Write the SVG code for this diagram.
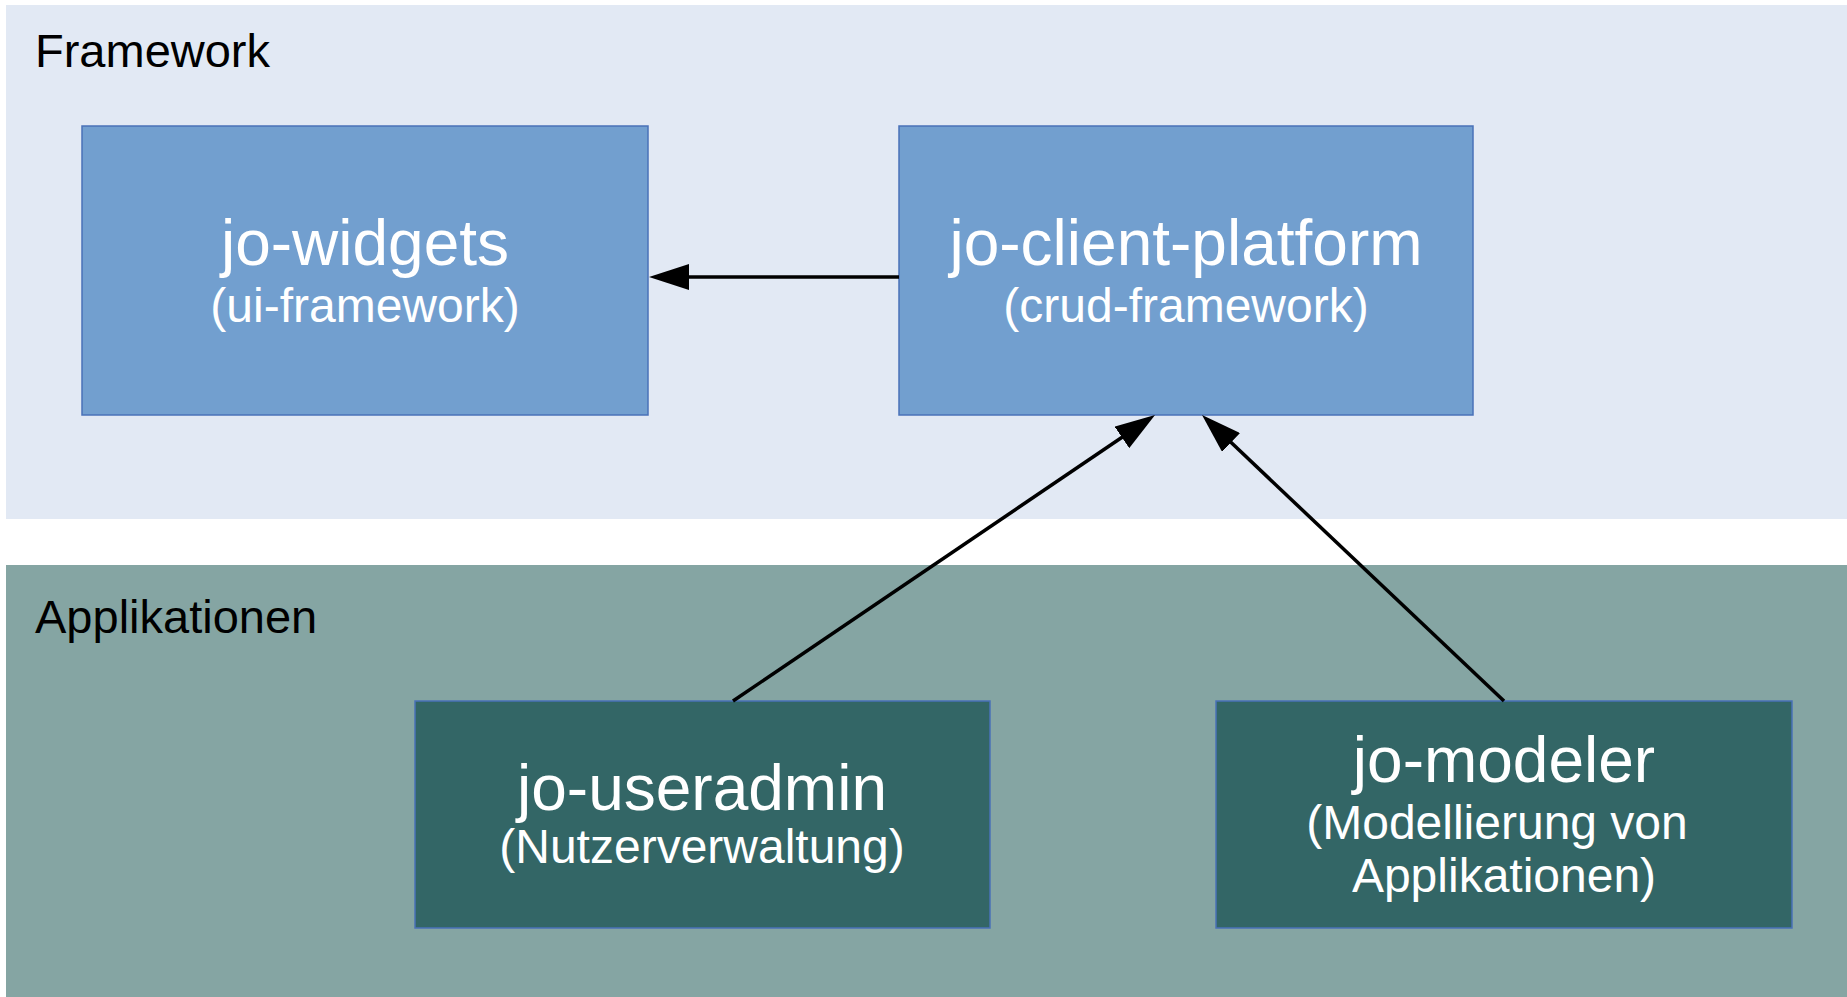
<svg xmlns="http://www.w3.org/2000/svg" width="1847" height="997" viewBox="0 0 1847 997">
  <style>
    .lbl { font-family: "Liberation Sans", Arial, sans-serif; fill: #000000; font-size: 47px; }
    .title { font-family: "Liberation Sans", Arial, sans-serif; fill: #ffffff; font-size: 64px; text-anchor: middle; }
    .sub { font-family: "Liberation Sans", Arial, sans-serif; fill: #ffffff; font-size: 48px; text-anchor: middle; }
    .fw { fill: #729FCF; stroke: #4A72B8; stroke-width: 1.5; }
    .app { fill: #336666; stroke: #4A72B8; stroke-width: 1.5; }
    .conn { stroke: #000000; stroke-width: 3.5; fill: none; marker-end: url(#arrow); }
  </style>
  <defs>
    <marker id="arrow" markerUnits="userSpaceOnUse" markerWidth="40" markerHeight="26" refX="10" refY="13" orient="auto">
      <path d="M0,0 L40,13 L0,26 Z" fill="#000000"/>
    </marker>
  </defs>
  <rect x="0" y="0" width="1847" height="997" fill="#ffffff"/>
  <g id="panel-framework">
    <rect x="6" y="5" width="1841" height="514" fill="#E2E9F4"/>
    <text class="lbl" x="35" y="67">Framework</text>
  </g>
  <g id="panel-applikationen">
    <rect x="6" y="565" width="1841" height="432" fill="#85A5A3"/>
    <text class="lbl" x="35" y="633">Applikationen</text>
  </g>
  <g id="jo-widgets">
    <rect class="fw" x="82" y="126" width="566" height="289"/>
    <text class="title" x="365" y="265">jo-widgets</text>
    <text class="sub" x="365" y="322">(ui-framework)</text>
  </g>
  <g id="jo-client-platform">
    <rect class="fw" x="899" y="126" width="574" height="289"/>
    <text class="title" x="1186" y="265">jo-client-platform</text>
    <text class="sub" x="1186" y="322">(crud-framework)</text>
  </g>
  <g id="jo-useradmin">
    <rect class="app" x="415" y="701" width="575" height="227"/>
    <text class="title" x="702" y="810">jo-useradmin</text>
    <text class="sub" x="702" y="863">(Nutzerverwaltung)</text>
  </g>
  <g id="jo-modeler">
    <rect class="app" x="1216" y="701" width="576" height="227"/>
    <text class="title" x="1504" y="782">jo-modeler</text>
    <text class="sub" x="1497" y="839">(Modellierung von</text>
    <text class="sub" x="1504" y="892">Applikationen)</text>
  </g>
  <g id="connectors">
    <line class="conn" x1="899" y1="277" x2="679" y2="277"/>
    <line class="conn" x1="733" y1="701" x2="1130.2" y2="431.8"/>
    <line class="conn" x1="1504" y1="701" x2="1223.8" y2="435.6"/>
  </g>
</svg>
